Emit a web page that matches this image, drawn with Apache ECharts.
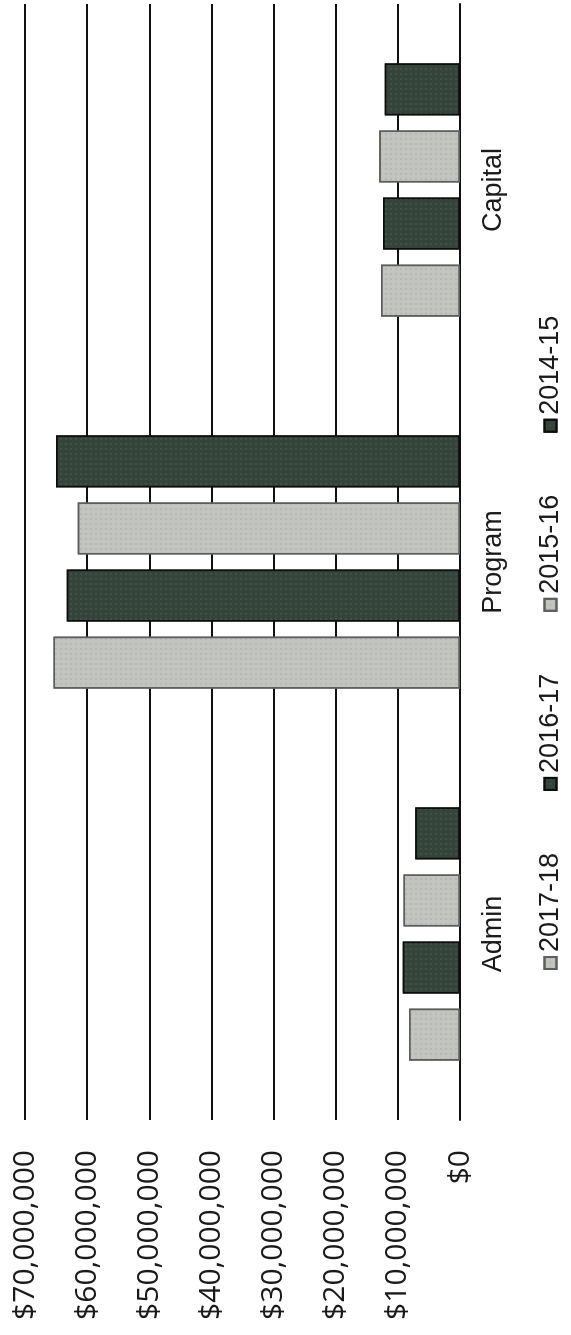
<!DOCTYPE html>
<html>
<head>
<meta charset="utf-8">
<script src="https://cdn.jsdelivr.net/npm/echarts@6/dist/echarts.min.js"></script>
<style>
  html, body { margin: 0; padding: 0; background: #fff; overflow: hidden; }
  /* the scanned page is turned on its side, so the chart is drawn upright and rotated */
  #main {
    position: absolute;
    left: 0;
    top: 0;
    width: 1335px;
    height: 571px;
    transform-origin: 0 0;
    transform: translate(0, 1335px) rotate(-90deg);
  }
</style>
</head>
<body>
<div id="main"></div>
<script>
  const categories = ['Admin', 'Program', 'Capital']
  const years = ['2017-18', '2016-17', '2015-16', '2014-15']
  const fy1718 = [8200000, 65400000, 12700000]
  const fy1617 = [9200000, 63300000, 12400000]
  const fy1516 = [9100000, 61500000, 13000000]
  const fy1415 = [7200000, 65000000, 12100000]
  const valueTicks = [0, 10000000, 20000000, 30000000, 40000000, 50000000, 60000000, 70000000]

  const light = { color: '#c2c4c0', borderColor: '#5e5e5e', decal: { symbol: 'rect', symbolSize: 0.6, color: 'rgba(110,110,110,0.45)', dashArrayX: [2, 3], dashArrayY: [2, 3], rotation: 0 } }
  const dark = { color: '#34443a', borderColor: '#0d0d0d', decal: { symbol: 'rect', symbolSize: 0.6, color: 'rgba(150,170,155,0.45)', dashArrayX: [2, 3], dashArrayY: [2, 3], rotation: 0 } }

  function money(v) {
    return '$' + v.toLocaleString('en-US')
  }

  function bar(name, data, look) {
    return {
      name: name,
      type: 'bar',
      data: data,
      barWidth: 52,
      barGap: '29%',
      itemStyle: {
        color: look.color,
        borderColor: look.borderColor,
        borderWidth: 1.5,
        decal: look.decal
      }
    }
  }

  let myChart = echarts.init(document.getElementById('main'))
  let option = {
    animation: false,
    backgroundColor: '#fff',
    aria: { enabled: false },
    grid: {
      left: 215,
      right: 4,
      top: 25,
      bottom: 111,
      containLabel: false
    },
    legend: {
      bottom: 2,
      left: 360,
      itemWidth: 12,
      itemHeight: 12,
      itemGap: 62,
      icon: 'rect',
      textStyle: {
        fontFamily: 'Liberation Sans',
        fontSize: 27,
        color: '#1a1a1a'
      },
      data: years
    },
    xAxis: {
      type: 'category',
      data: categories,
      axisLine: { show: true, lineStyle: { color: '#111', width: 2 } },
      axisTick: { show: false },
      axisLabel: {
        margin: 20,
        fontFamily: 'Liberation Sans',
        fontSize: 27,
        color: '#1a1a1a'
      }
    },
    yAxis: {
      type: 'value',
      min: 0,
      max: 70000000,
      interval: 10000000,
      axisLine: { show: false },
      axisTick: { show: false },
      axisLabel: {
        margin: 30,
        fontFamily: 'Open Sans',
        fontSize: 30,
        color: '#1a1a1a',
        formatter: function (v) {
          return valueTicks.indexOf(v) >= 0 ? money(v) : ''
        }
      },
      splitLine: { show: true, lineStyle: { color: '#111', width: 2 } }
    },
    series: [
      bar(years[0], fy1718, light),
      bar(years[1], fy1617, dark),
      bar(years[2], fy1516, light),
      bar(years[3], fy1415, dark)
    ]
  }
  myChart.setOption(option)
</script>
</body>
</html>
